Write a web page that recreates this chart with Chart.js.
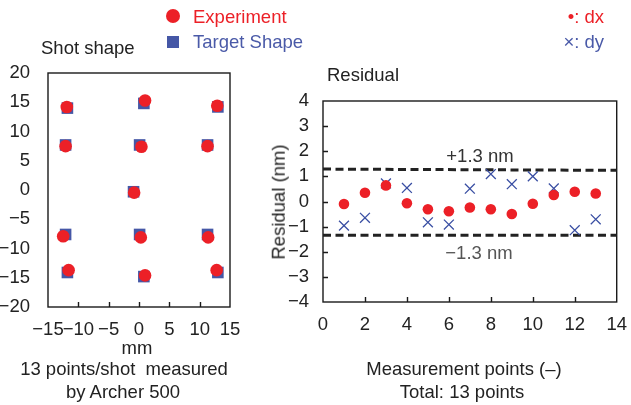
<!DOCTYPE html>
<html>
<head>
<meta charset="utf-8">
<script src="https://cdn.jsdelivr.net/npm/chart.js@4/dist/chart.umd.min.js"></script>
<style>
  body { margin: 0; background: #fff; }
  #wrap { position: relative; width: 631px; height: 405px; overflow: hidden;
          font-family: "Liberation Sans", Arial, sans-serif; color: #222; }
  canvas { position: absolute; top: 0; }
  .t { position: absolute; white-space: pre; line-height: 1; font-size: 18.5px; transform: translateY(-50%); }
  .c { transform: translate(-50%, -50%); }
  .red { color: #ec2027; }
  .blue { color: #4a5aa8; }
</style>
</head>
<body>
<div id="wrap">
  <canvas id="shotChart" width="260" height="405" style="left:0"></canvas>
  <canvas id="residChart" width="371" height="405" style="left:260px"></canvas>

  <div class="t" style="left:41px;top:48px">Shot shape</div>
  <div class="t" style="left:327px;top:75px">Residual</div>

  <div style="position:absolute;left:166px;top:9px;width:14px;height:14px;border-radius:50%;background:#ec2027"></div>
  <div class="t red" style="left:193px;top:17px">Experiment</div>
  <div style="position:absolute;left:167px;top:36px;width:12px;height:12px;background:#4557a6"></div>
  <div class="t blue" style="left:193px;top:42px">Target Shape</div>

  <div class="t red" style="right:27px;top:17px">&#8226;: dx</div>
  <div class="t blue" style="right:27px;top:42px">&#215;: dy</div>

  <div class="t c" style="left:480px;top:156px;color:#333">+1.3 nm</div>
  <div class="t c" style="left:479px;top:253px;color:#555">&#8722;1.3 nm</div>

  <div class="t c" style="left:279px;top:202px;transform:translate(-50%,-50%) rotate(-90deg)">Residual (nm)</div>

  <div class="t c" style="left:137px;top:348px">mm</div>
  <div class="t c" style="left:124px;top:369px">13 points/shot  measured</div>
  <div class="t c" style="left:123px;top:392px">by Archer 500</div>
  <div class="t c" style="left:464px;top:369px">Measurement points (&#8211;)</div>
  <div class="t c" style="left:462px;top:392px">Total: 13 points</div>
</div>

<script>
// shot shape, mm
const expX = [-11.9, 1.0, 12.9, -12.1, 0.4, 11.3, -0.8, -12.5, 0.3, 11.4, -11.6, 1.0, 12.8];
const expY = [14.2, 15.3, 14.4, 7.5, 7.4, 7.5, -0.45, -7.9, -8.1, -8.1, -13.7, -14.6, -13.7];
const tgtX = [-11.8, 0.8, 13.0, -12.1, 0.1, 11.3, -0.9, -12.1, 0.1, 11.3, -11.8, 0.8, 13.0];
const tgtY = [14.0, 14.8, 14.2, 7.7, 7.7, 7.7, -0.3, -7.6, -7.6, -7.6, -14.1, -14.8, -14.1];

// residuals, nm
const pointNo = [1, 2, 3, 4, 5, 6, 7, 8, 9, 10, 11, 12, 13];
const dx = [-0.1, 0.35, 0.64, -0.07, -0.31, -0.39, -0.24, -0.31, -0.5, -0.09, 0.26, 0.39, 0.32];
const dy = [-0.96, -0.65, 0.72, 0.54, -0.83, -0.92, 0.51, 1.09, 0.69, 1.0, 0.52, -1.14, -0.71];
const limitX = [0, 14];
const upperLimit = [1.29, 1.24];
const lowerLimit = [-1.34, -1.34];

const RED = '#ec2027';
const BLUE = '#4557a6';
const FONT = { family: '"Liberation Sans", Arial, sans-serif', size: 18.5 };
const minus = v => String(v).replace('-', '\u2212');

const pairs = (xs, ys) => xs.map((x, i) => ({ x: x, y: ys[i] }));

// box round the plot + short inward ticks
const framePlugin = {
    id: 'frame',
    beforeDatasetsDraw(chart, args, opts) {
        const { ctx, chartArea: a, scales } = chart;
        ctx.save();
        ctx.strokeStyle = '#1a1a1a';
        ctx.lineWidth = 1.4;
        ctx.strokeRect(a.left, a.top, a.right - a.left, a.bottom - a.top);
        ctx.beginPath();
        scales.x.ticks.forEach(t => {
            if (t.value <= scales.x.min || t.value >= scales.x.max) return;
            const px = Math.round(scales.x.getPixelForValue(t.value)) + 0.5;
            ctx.moveTo(px, a.bottom);
            ctx.lineTo(px, a.bottom - 5);
        });
        if (opts.yTicks) {
            scales.y.ticks.forEach(t => {
                if (t.value <= scales.y.min || t.value >= scales.y.max) return;
                const py = Math.round(scales.y.getPixelForValue(t.value)) + 0.5;
                ctx.moveTo(a.left, py);
                ctx.lineTo(a.left + 5, py);
            });
        }
        ctx.stroke();
        ctx.restore();
    }
};

function axis(min, max, step, pad, size) {
    return {
        type: 'linear', min: min, max: max,
        grid: { display: false },
        border: { display: false },
        afterFit: size,
        ticks: {
            stepSize: step, color: '#222', font: FONT, callback: minus,
            padding: pad, autoSkip: false, maxRotation: 0, minRotation: 0
        }
    };
}

// left: shot shape
new Chart(document.getElementById('shotChart'), {
    type: 'scatter',
    data: {
        datasets: [{
            label: 'Experiment',
            data: pairs(expX, expY),
            pointStyle: 'circle',
            pointRadius: 6.3,
            backgroundColor: RED,
            borderWidth: 0
        }, {
            label: 'Target Shape',
            data: pairs(tgtX, tgtY),
            pointStyle: 'rect',
            pointRadius: 8.2,
            backgroundColor: BLUE,
            borderWidth: 0
        }]
    },
    options: {
        responsive: false,
        animation: false,
        layout: { padding: { top: 73, right: 30, left: 0, bottom: 0 } },
        plugins: { legend: { display: false }, tooltip: { enabled: false }, frame: {} },
        scales: {
            x: axis(-15, 15, 5, 4, s => { s.height = 98; }),
            y: axis(-20, 20, 5, 10, s => { s.width = 48; })
        }
    },
    plugins: [framePlugin]
});

// right: residual
new Chart(document.getElementById('residChart'), {
    type: 'scatter',
    data: {
        datasets: [{
            label: 'dx',
            data: pairs(pointNo, dx),
            pointStyle: 'circle',
            pointRadius: 5.3,
            backgroundColor: RED,
            borderWidth: 0
        }, {
            label: 'dy',
            data: pairs(pointNo, dy),
            pointStyle: 'crossRot',
            pointRadius: 7,
            borderColor: '#3a4fa3',
            borderWidth: 1.3
        }, {
            label: '+1.3 nm',
            type: 'line',
            data: pairs(limitX, upperLimit),
            borderColor: '#222',
            borderWidth: 3,
            borderDash: [8, 4.5],
            pointRadius: 0
        }, {
            label: '-1.3 nm',
            type: 'line',
            data: pairs(limitX, lowerLimit),
            borderColor: '#222',
            borderWidth: 3,
            borderDash: [8, 4.5],
            pointRadius: 0
        }]
    },
    options: {
        responsive: false,
        animation: false,
        layout: { padding: { top: 101, right: 9, left: 0, bottom: 0 } },
        plugins: { legend: { display: false }, tooltip: { enabled: false }, frame: { yTicks: true } },
        scales: {
            x: axis(0, 14, 2, 4, s => { s.height = 103; }),
            y: axis(-4, 4, 1, 6, s => { s.width = 63; })
        }
    },
    plugins: [framePlugin]
});
</script>
</body>
</html>
